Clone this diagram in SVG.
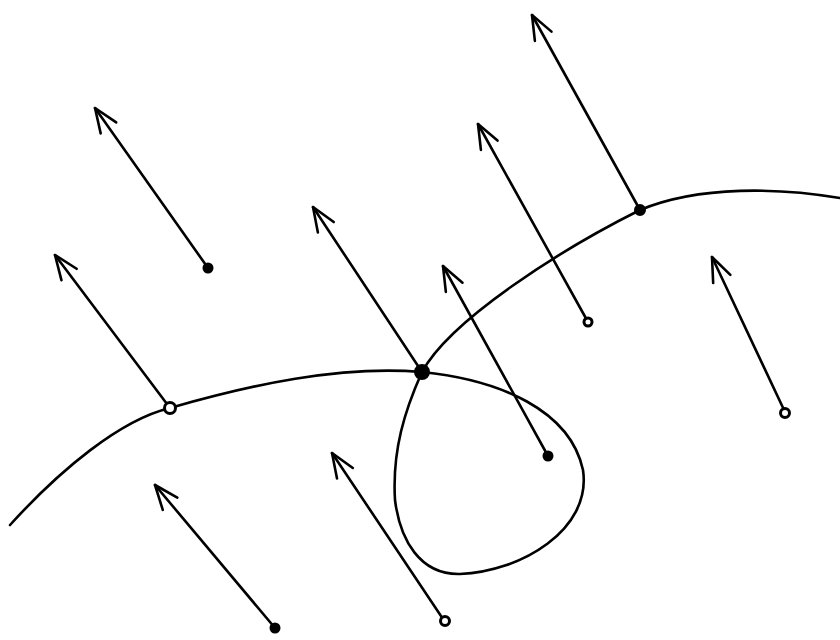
<svg xmlns="http://www.w3.org/2000/svg" width="840" height="640" viewBox="0 0 840 640">
<style>
.c{fill:none;stroke:#000;stroke-width:2.6;stroke-linecap:round;stroke-linejoin:round}
.a{fill:none;stroke:#000;stroke-width:2.6;stroke-linecap:round;marker-end:url(#h)}
.f{fill:#000;stroke:#000;stroke-width:2}
.o{fill:#fff;stroke:#000;stroke-width:3}
</style>
<defs>
<marker id="h" markerUnits="userSpaceOnUse" markerWidth="40" markerHeight="40" viewBox="-30 -20 40 40" refX="0" refY="0" orient="auto">
<path d="M-24,-10 L0,0 L-24,9" fill="none" stroke="#000" stroke-width="2.6" stroke-linecap="round" stroke-linejoin="round"/>
</marker>
</defs>
<rect width="840" height="640" fill="#fff"/>
<path class="c" d="M10,525 C60,470 120,420 170,408 C250,385 340,365 422,372 C500,380 570,410 583,470 C592,530 520,572 460,574 C420,575 400,540 395,500 C392,450 405,410 422,372 C450,320 560,250 640,210 C700,185 780,188 840,198"/>
<g id="arrows">
<path class="a" d="M208,268 L95,108"/>
<path class="a" d="M170,408 L55,255"/>
<path class="a" d="M422,372 L313,207"/>
<path class="a" d="M548,456 L443,266"/>
<path class="a" d="M588,322 L478,124"/>
<path class="a" d="M640,210 L532,15"/>
<path class="a" d="M785,412 L712,257"/>
<path class="a" d="M275,628 L155,485"/>
<path class="a" d="M445,622 L332,453"/>
</g>
<g id="points">
<circle class="f" cx="208" cy="268" r="4.5"/>
<circle class="o" cx="170" cy="408" r="5.5"/>
<circle class="f" cx="422" cy="372" r="7"/>
<circle class="f" cx="548" cy="456" r="4.5"/>
<circle class="o" cx="588" cy="322" r="4"/>
<circle class="f" cx="640" cy="210" r="5"/>
<circle class="o" cx="785" cy="413" r="4.5"/>
<circle class="f" cx="275" cy="628" r="4.5"/>
<circle class="o" cx="445" cy="621" r="4.5"/>
</g>
</svg>
